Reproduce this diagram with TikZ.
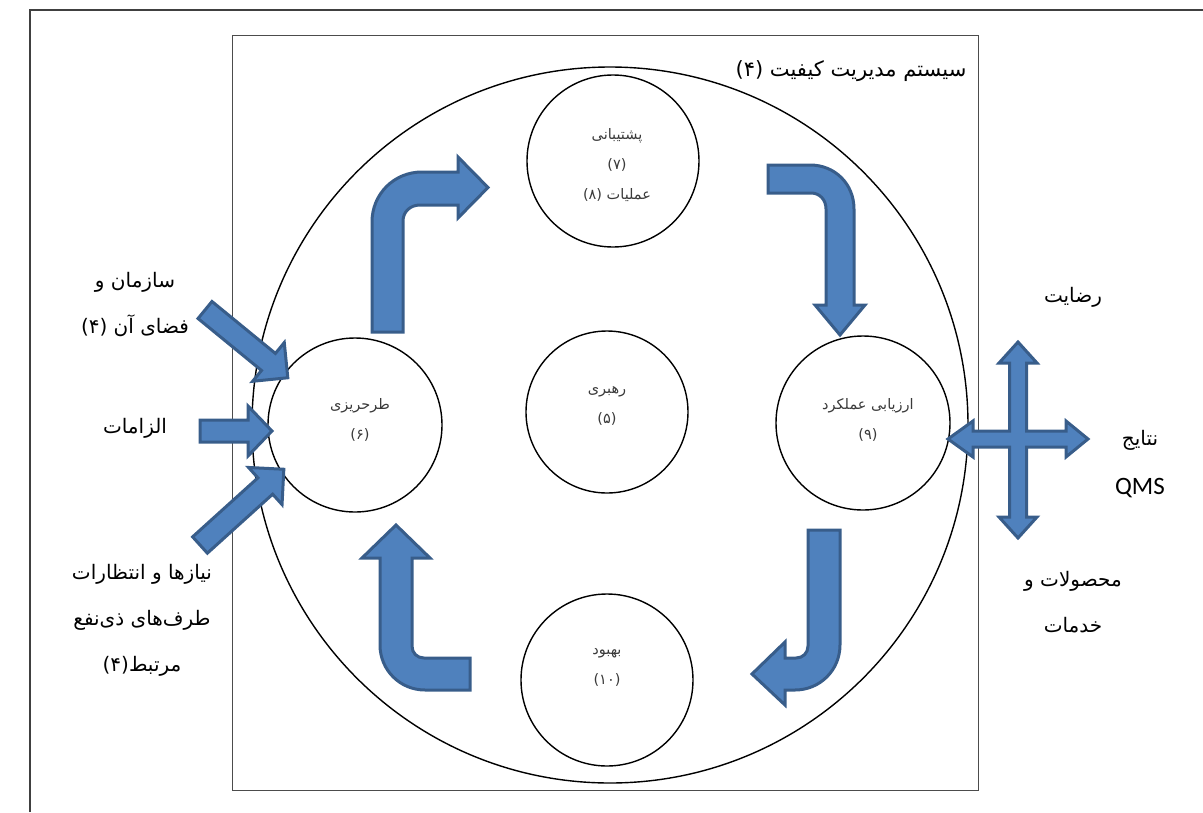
\documentclass[tikz,border=0pt]{standalone}
\usepackage{fontspec}
\setmainfont{DejaVu Sans}
\newfontfamily\fa[Script=Arabic]{DejaVu Sans}
\newfontfamily\lat{Carlito}
\TeXXeTstate=1
\definecolor{afill}{HTML}{4F81BD}
\definecolor{aline}{HTML}{385D8A}
\definecolor{ctext}{HTML}{3A3A3A}
\newcommand{\rl}[1]{\beginR #1\endR}
\tikzset{
  blk/.style={fill=afill, draw=aline, line width=3pt, line join=miter},
  circ/.style={draw=black, line width=1.4pt, circle, inner sep=0pt},
  intxt/.style={font=\fa\fontsize{14.5}{30}\selectfont, text=ctext, align=center},
  outtxt/.style={font=\fa\fontsize{20}{46}\selectfont, text=black, align=center},
}
\begin{document}
\begin{tikzpicture}[x=1pt,y=-1pt]
\useasboundingbox (0,0) rectangle (1203,812);
% outer frame
\draw[line width=1.2pt, draw=black!75] (30,812) -- (30,10) -- (1203,10);
% inner rectangle
\draw[line width=1pt, draw=black!70] (232,35) rectangle (978,790);
% big circle
\node[circ, minimum size=716] (qms) at (610,425) {};
% small circles
\node[circ, minimum size=172] (sup) at (613,161) {};
\node[circ, minimum size=174] (plan) at (355,425) {};
\node[circ, minimum size=162] (lead) at (607,412) {};
\node[circ, minimum size=174] (eval) at (863,423) {};
\node[circ, minimum size=172] (imp) at (607,680) {};
% circle texts
\node[intxt] (tsup) at (617,165) {\rl{پشتیبانی}\\\rl{(۷)}\\\rl{عملیات (۸)}};
\node[intxt] (tplan) at (360,420) {\rl{طرحریزی}\\\rl{(۶)}};
\node[intxt] (tlead) at (607,406) {\rl{رهبری}\\\rl{(۵)}};
\node[intxt] (teval) at (868,420) {\rl{ارزیابی عملکرد}\\\rl{(۹)}};
\node[intxt] (timp) at (607,667) {\rl{بهبود}\\\rl{(۱۰)}};
% title
\node[outtxt, font=\fa\fontsize{21}{24}\selectfont] (title) at (851,71) {\rl{سیستم مدیریت کیفیت (۴)}};
% left texts
\node[outtxt] (org) at (135,305) {\rl{سازمان و}\\\rl{فضای آن (۴)}};
\node[outtxt] (req) at (135,428) {\rl{الزامات}};
\node[outtxt] (needs) at (142,620) {\rl{نیازها و انتظارات}\\\rl{طرف‌های ذی‌نفع}\\\rl{مرتبط(۴)}};
% right texts
\node[outtxt] (sat) at (1073,297) {\rl{رضایت}};
\node[outtxt] (res) at (1140,440) {\rl{نتایج}};
\node[font=\lat\fontsize{25}{28}\selectfont] (qmsl) at (1140,488) {QMS};
\node[outtxt] (prod) at (1073,602) {\rl{محصولات و}\\\rl{خدمات}};
% straight input arrows
\begin{scope}[shift={(205,310)}, rotate=-39.3]
\draw[blk] (0,-11) -- (82,-11) -- (82,-25) -- (107,0) -- (82,25) -- (82,11) -- (0,11) -- cycle;
\end{scope}
\draw[blk] (200,420) -- (248,420) -- (248,406) -- (272,431) -- (248,456) -- (248,442) -- (200,442) -- cycle;
\begin{scope}[shift={(200,545)}, rotate=42.1]
\draw[blk] (0,-11) -- (88,-11) -- (88,-25) -- (113,0) -- (88,25) -- (88,11) -- (0,11) -- cycle;
\end{scope}
% cross arrow
\draw[blk] (1018,342) -- (1037,363) -- (1026.5,363) -- (1026.5,431) -- (1066,431) -- (1066,421) -- (1088,439) -- (1066,457) -- (1066,447) -- (1026.5,447) -- (1026.5,517) -- (1037,517) -- (1018,538) -- (999,517) -- (1009.5,517) -- (1009.5,447) -- (973,447) -- (973,457) -- (948,439) -- (973,421) -- (973,431) -- (1009.5,431) -- (1009.5,363) -- (999,363) -- cycle;
% bent arrows
\draw[blk] (372,332) -- (372,222) .. controls (372,194) and (394,172) .. (422,172) -- (458,172) -- (458,157) -- (488,187.5) -- (458,218) -- (458,205) -- (420,205) .. controls (410,205) and (403,212) .. (403,221) -- (403,332) -- cycle;
\draw[blk] (768,165) -- (810,165) .. controls (835,165) and (854,184) .. (854,209) -- (854,305) -- (865,305) -- (840,335) -- (815,305) -- (826,305) -- (826,209) .. controls (826,200) and (820,193) .. (811,193) -- (768,193) -- cycle;
\draw[blk] (808,530) -- (840,530) -- (840,645) .. controls (840,670) and (820,690) .. (795,690) -- (785,690) -- (785,705) -- (752,674) -- (785,642) -- (785,658) -- (796,658) .. controls (803,658) and (808,653) .. (808,646) -- cycle;
\draw[blk] (470,690) -- (425,690) .. controls (400,690) and (380,670) .. (380,645) -- (380,558) -- (362,558) -- (396,525) -- (430,558) -- (412,558) -- (412,646) .. controls (412,653) and (417,658) .. (424,658) -- (470,658) -- cycle;
\end{tikzpicture}
\end{document}
